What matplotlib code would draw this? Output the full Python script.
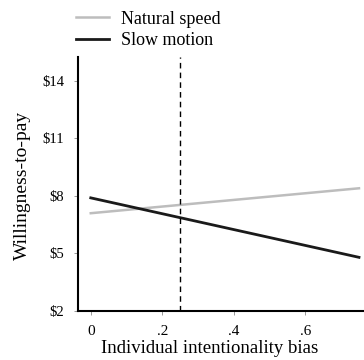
import matplotlib
matplotlib.use("Agg")
import matplotlib.pyplot as plt

plt.rcParams['font.family'] = ['Liberation Serif', 'DejaVu Serif']

# data
bias = [0.0, 0.75]
natural_speed = [7.1, 8.4]
slow_motion = [7.9, 4.8]
cutoff = 0.25
yticks = [2, 5, 8, 11, 14]
xticks = [0, 0.2, 0.4, 0.6]
xtick_labels = ['0', '.2', '.4', '.6']

fig = plt.figure(figsize=(3.64, 3.6), dpi=100)
ax = fig.add_axes([0.214, 0.136, 0.786, 0.706])

ax.plot(bias, natural_speed, color='#bdbdbd', lw=1.8, label='Natural speed')
ax.plot(bias, slow_motion, color='#1a1a1a', lw=2.0, label='Slow motion')
ax.axvline(cutoff, color='black', lw=1.0, ls=(0, (4, 3)))

ax.set_xlim(-0.036, 0.764)
ax.set_ylim(2, 15.25)
ax.set_yticks(yticks)
ax.set_yticklabels(['$%d' % v for v in yticks], fontsize=10.5)
ax.set_xticks(xticks)
ax.set_xticklabels(xtick_labels, fontsize=11)
ax.tick_params(length=3, width=0.6, color='#888888', pad=7)

for s in ['top', 'right']:
    ax.spines[s].set_visible(False)
for s in ['left', 'bottom']:
    ax.spines[s].set_linewidth(1.5)

ax.set_xlabel('Individual intentionality bias', fontsize=13.5)
ax.xaxis.set_label_coords(0.46, -0.146)
ax.xaxis.label.set_va('center')
ax.set_ylabel('Willingness-to-pay', fontsize=14)
ax.yaxis.set_label_coords(-0.195, 0.496)
ax.yaxis.label.set_va('center')

ax.legend(loc='lower left', bbox_to_anchor=(-0.005, 1.03), frameon=False,
          fontsize=13, handlelength=1.8, handletextpad=0.65,
          labelspacing=0.25, borderaxespad=0.0, borderpad=0.0)

fig.savefig('out.png', dpi=100)
